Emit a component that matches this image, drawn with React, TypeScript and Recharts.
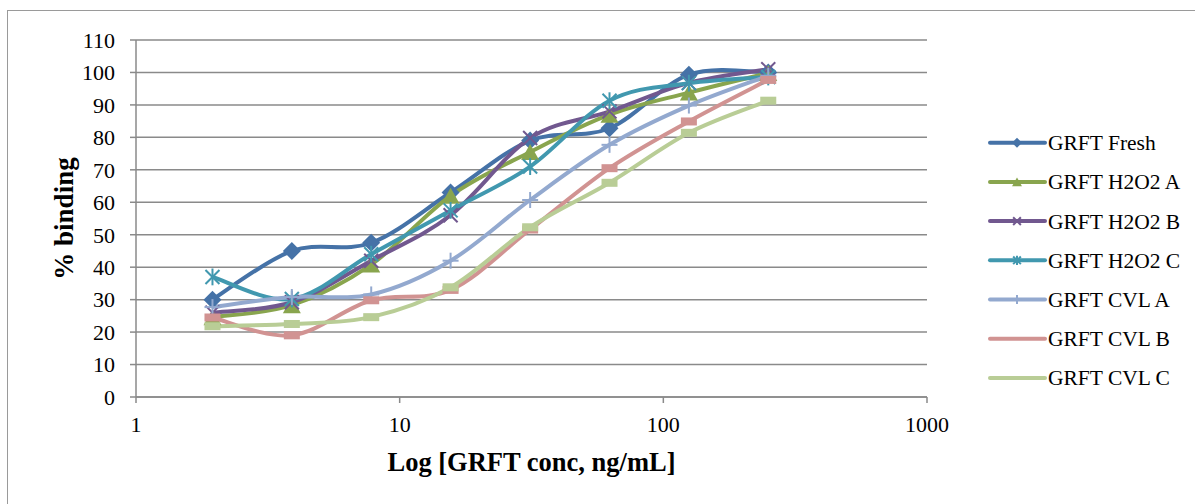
import React from 'react';
import { LineChart, Line, XAxis, YAxis, CartesianGrid, Legend, Label } from 'recharts';

const concentrations = [1.95, 3.9, 7.8, 15.6, 31.25, 62.5, 125, 250];
const seriesNames = ['GRFT Fresh', 'GRFT H2O2 A', 'GRFT H2O2 B', 'GRFT H2O2 C', 'GRFT CVL A', 'GRFT CVL B', 'GRFT CVL C'];
const fresh = [30, 45, 47.5, 63, 79, 82.8, 99.3, 100];
const h2o2A = [24.6, 28.3, 40.8, 62, 75.5, 87, 93.8, 99.8];
const h2o2B = [26, 29.2, 42, 56, 79.8, 88, 96.8, 101];
const h2o2C = [37, 30.2, 44, 57.5, 71, 91.3, 96.7, 98.6];
const cvlA = [27.7, 30.8, 31.6, 42, 60.7, 77.7, 89.8, 99];
const cvlB = [24.5, 19, 29.8, 33, 51.6, 70.5, 84.9, 97.7];
const cvlC = [21.8, 22.5, 24.6, 33.8, 52.3, 66, 81.4, 91.3];
const xTicks = [1, 10, 100, 1000];
const yTicks = [0, 10, 20, 30, 40, 50, 60, 70, 80, 90, 100, 110];

const seriesValues = [fresh, h2o2A, h2o2B, h2o2C, cvlA, cvlB, cvlC];
const colors = ['#4572A7', '#89A54E', '#71588F', '#4198AF', '#93A9CF', '#D19392', '#B9CD96'];
const shapes = ['diamond', 'triangle', 'x', 'star', 'plus', 'dash', 'dash'];

const data = concentrations.map((c, i) => {
  const row: any = { conc: c };
  seriesNames.forEach((n, s) => { row['s' + s] = seriesValues[s][i]; });
  return row;
});

// Excel-like smoothed curve (Catmull-Rom style Bezier)
function excelCurve(context: any) {
  let pts: [number, number][] = [];
  return {
    areaStart() {},
    areaEnd() {},
    lineStart() { pts = []; },
    lineEnd() {
      const n = pts.length;
      if (n === 0) return;
      context.moveTo(pts[0][0], pts[0][1]);
      for (let i = 0; i < n - 1; i++) {
        const p0 = pts[Math.max(0, i - 1)];
        const p1 = pts[i];
        const p2 = pts[i + 1];
        const p3 = pts[Math.min(n - 1, i + 2)];
        context.bezierCurveTo(
          p1[0] + (p2[0] - p0[0]) / 6, p1[1] + (p2[1] - p0[1]) / 6,
          p2[0] - (p3[0] - p1[0]) / 6, p2[1] - (p3[1] - p1[1]) / 6,
          p2[0], p2[1]
        );
      }
    },
    point(x: number, y: number) { pts.push([+x, +y]); },
  };
}

function Marker({ shape, cx, cy, color, s = 1 }: any) {
  if (cx == null || cy == null || isNaN(cx) || isNaN(cy)) return null;
  const k = s;
  switch (shape) {
    case 'diamond': {
      const r = 9 * k;
      return <polygon points={`${cx},${cy - r} ${cx + r},${cy} ${cx},${cy + r} ${cx - r},${cy}`} fill={color} />;
    }
    case 'triangle': {
      const w = 9 * k, h = 8 * k;
      return <polygon points={`${cx},${cy - h} ${cx + w},${cy + h} ${cx - w},${cy + h}`} fill={color} />;
    }
    case 'x': {
      const r = 7 * k;
      return <g stroke={color} strokeWidth={2}>
        <line x1={cx - r} y1={cy - r} x2={cx + r} y2={cy + r} />
        <line x1={cx - r} y1={cy + r} x2={cx + r} y2={cy - r} />
      </g>;
    }
    case 'star': {
      const r = 7 * k;
      return <g stroke={color} strokeWidth={2}>
        <line x1={cx - r} y1={cy - r} x2={cx + r} y2={cy + r} />
        <line x1={cx - r} y1={cy + r} x2={cx + r} y2={cy - r} />
        <line x1={cx} y1={cy - r * 1.2} x2={cx} y2={cy + r * 1.2} />
      </g>;
    }
    case 'plus': {
      const r = 8 * k;
      return <g stroke={color} strokeWidth={2}>
        <line x1={cx - r} y1={cy} x2={cx + r} y2={cy} />
        <line x1={cx} y1={cy - r} x2={cx} y2={cy + r} />
      </g>;
    }
    case 'dash': {
      if (k < 1) return null;
      return <rect x={cx - 8} y={cy - 4} width={16} height={8} fill={color} />;
    }
    default:
      return null;
  }
}

const FONT = '"Liberation Serif", "Times New Roman", serif';

function LegendContent() {
  const rowGap = 39.2;
  const y0 = 22.7;
  return (
    <svg width={215} height={280} style={{ display: 'block' }}>
      {seriesNames.map((n, i) => {
        const y = y0 + i * rowGap;
        return (
          <g key={n}>
            <line x1={12} y1={y} x2={67} y2={y} stroke={colors[i]} strokeWidth={4} strokeLinecap="round" />
            <Marker shape={shapes[i]} cx={39} cy={y} color={colors[i]} s={0.55} />
            <text x={70} y={y + 7.5} fontFamily={FONT} fontSize={21.5} fill="#000">{n}</text>
          </g>
        );
      })}
    </svg>
  );
}

export default function App() {
  return (
    <div style={{ position: 'absolute', left: 0, top: 0, width: 1195, height: 504, overflow: 'hidden', background: '#fff' }}>
      <div style={{ position: 'absolute', left: 7, top: 10, width: 1188, height: 494, borderTop: '1.5px solid #9a9a9a', borderLeft: '1.5px solid #9a9a9a', boxSizing: 'border-box' }} />
      <div style={{ position: 'absolute', left: 0, top: 0 }}>
        <LineChart width={1195} height={504} data={data} margin={{ top: 40, right: 268, bottom: 0, left: 0 }}>
          <CartesianGrid vertical={false} stroke="#8a8a8a" strokeWidth={1.5} />
          <XAxis
            dataKey="conc"
            type="number"
            scale="log"
            domain={[1, 1000]}
            ticks={xTicks}
            allowDataOverflow
            height={107}
            stroke="#8a8a8a"
            strokeWidth={1.5}
            tickSize={6}
            tickMargin={13}
            tick={{ fill: '#000', fontSize: 22, fontFamily: FONT }}
            interval={0}
          >
            <Label value="Log [GRFT conc, ng/mL]" position="center" dy={11} style={{ fontFamily: FONT, fontSize: 26.5, fontWeight: 'bold', fill: '#000' }} />
          </XAxis>
          <YAxis
            type="number"
            domain={[0, 110]}
            ticks={yTicks}
            width={136}
            stroke="#8a8a8a"
            strokeWidth={1.5}
            tickSize={6}
            tickMargin={15}
            tick={{ fill: '#000', fontSize: 22, fontFamily: FONT }}
            interval={0}
          >
            <Label value="% binding" angle={-90} position="center" dx={-5} style={{ fontFamily: FONT, fontSize: 27, fontWeight: 'bold', fill: '#000', textAnchor: 'middle' }} />
          </YAxis>
          <Legend
            layout="horizontal"
            verticalAlign="middle"
            align="center"
            wrapperStyle={{ left: 978, top: 120, width: 215, height: 280 }}
            content={() => <LegendContent />}
          />
          {seriesNames.map((n, i) => (
            <Line
              key={n}
              name={n}
              dataKey={'s' + i}
              type={excelCurve as any}
              stroke={colors[i]}
              strokeWidth={4}
              strokeLinejoin="round"
              isAnimationActive={false}
              activeDot={false}
              dot={(p: any) => <Marker key={`${n}-${p.index}`} shape={shapes[i]} cx={p.cx} cy={p.cy} color={colors[i]} />}
            />
          ))}
        </LineChart>
      </div>
    </div>
  );
}
